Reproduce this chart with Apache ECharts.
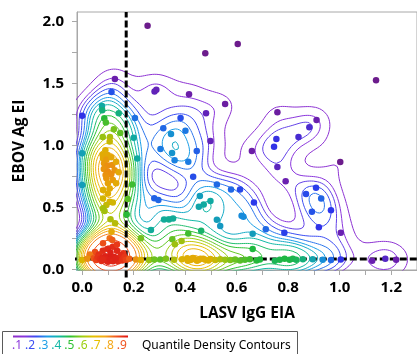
<!DOCTYPE html>
<html>
<head>
<meta charset="utf-8">
<script src="https://cdn.jsdelivr.net/npm/echarts@6/dist/echarts.min.js"></script>
<style>
  html, body { margin: 0; padding: 0; background: #ffffff; }
  #chart { width: 417px; height: 354px; }
</style>
</head>
<body>
<div id="chart"></div>
<script>
// Sample measurements: LASV IgG EIA (x) against EBOV Ag EI (y)
const lasvIgG = [
  // sparse high values
  0.254, 0.478, 0.604, 1.141, 0.127, 0.281, 0.288, 0.415, 0.481, 0.555,
  // upper-left group
  0.114, 0.000, 0.077, 0.078, 0.142, 0.205, 0.086, 0.092, 0.123, 0.148,
  0.080, 0.108, 0.107, 0.200, 0.000, 0.214,
  // main column
  0.090, 0.079, 0.098, 0.081, 0.094, 0.113, 0.085, 0.098, 0.117, 0.132,
  0.084, 0.100, 0.126, 0.091, 0.113, 0.142, 0.094, 0.119, 0.100, 0.132,
  0.107, 0.081, 0.100, 0.081, 0.107, 0.094, 0.081, 0.087, 0.119,
  0.194, 0.177, 0.173, 0.110, 0.128, 0.000,
  // between column and baseline
  0.114, 0.107, 0.117, 0.081, 0.119, 0.135, 0.100,
  0.050, 0.080, 0.110, 0.135, 0.160, 0.065, 0.150, 0.030,
  // baseline core
  0.045, 0.055, 0.060, 0.070, 0.075, 0.080, 0.085, 0.090, 0.095, 0.100,
  0.100, 0.105, 0.110, 0.115, 0.120, 0.125, 0.130, 0.135, 0.140, 0.145,
  0.150, 0.155, 0.160, 0.165, 0.170, 0.090, 0.110, 0.120, 0.080, 0.130,
  0.183, 0.209, 0.228, 0.260, 0.280, 0.000, 0.020,
  // baseline strip
  0.303, 0.325, 0.357, 0.388, 0.408, 0.421, 0.427, 0.440, 0.446, 0.459,
  0.478, 0.498, 0.517, 0.536, 0.555, 0.575, 0.594, 0.613, 0.632, 0.651,
  0.677, 0.690, 0.748, 0.767, 0.786, 0.805, 0.818, 0.831, 0.857, 0.895,
  0.934, 0.966, 1.004, 1.126, 1.177, 1.219,
  0.410, 0.430, 0.452, 0.470, 0.490,
  // middle field
  0.280, 0.296, 0.267, 0.228, 0.318, 0.337, 0.353, 0.350, 0.360, 0.386,
  0.412, 0.462, 0.457, 0.498, 0.472, 0.453, 0.523, 0.536, 0.619, 0.523,
  0.578, 0.613, 0.431, 0.667, 0.626, 0.713, 0.785, 0.919, 0.662, 0.662,
  0.869, 0.908, 0.928, 0.892, 0.966, 1.004, 1.002, 0.790, 0.758, 0.659,
  0.754, 0.745, 0.840, 0.882, 0.910, 0.758, 0.315, 0.345, 0.382, 0.401,
  0.304, 0.349, 0.359, 0.412, 0.445, 0.498
];
const ebovAg = [
  // sparse high values
  1.965, 1.742, 1.817, 1.524, 1.535, 1.435, 1.448, 1.411, 1.258, 1.333,
  // upper-left group
  1.430, 1.239, 1.317, 1.283, 1.258, 1.220, 1.218, 1.185, 1.129, 1.099,
  1.067, 1.067, 1.030, 1.062, 0.936, 0.893,
  // main column
  0.960, 0.927, 0.922, 0.896, 0.883, 0.905, 0.855, 0.836, 0.841, 0.868,
  0.809, 0.787, 0.799, 0.761, 0.767, 0.783, 0.734, 0.721, 0.694, 0.694,
  0.653, 0.639, 0.612, 0.572, 0.545, 0.519, 0.492, 0.470, 0.540,
  0.685, 0.567, 0.443, 0.405, 0.371, 0.680,
  // between column and baseline
  0.303, 0.250, 0.236, 0.210, 0.182, 0.200, 0.165,
  0.140, 0.150, 0.135, 0.150, 0.130, 0.120, 0.115, 0.120,
  // baseline core
  0.090, 0.075, 0.100, 0.085, 0.068, 0.095, 0.078, 0.105, 0.070, 0.088,
  0.062, 0.078, 0.095, 0.070, 0.083, 0.100, 0.075, 0.090, 0.065, 0.080,
  0.095, 0.072, 0.086, 0.100, 0.078, 0.085, 0.080, 0.065, 0.080, 0.088,
  0.085, 0.080, 0.075, 0.075, 0.080, 0.075, 0.085,
  // baseline strip
  0.080, 0.085, 0.078, 0.082, 0.090, 0.075, 0.088, 0.080, 0.070, 0.085,
  0.078, 0.083, 0.075, 0.082, 0.078, 0.075, 0.080, 0.072, 0.078, 0.082,
  0.072, 0.080, 0.070, 0.078, 0.085, 0.078, 0.085, 0.078, 0.082, 0.082,
  0.078, 0.075, 0.080, 0.070, 0.085, 0.078,
  0.070, 0.092, 0.076, 0.086, 0.072,
  // middle field
  0.573, 0.559, 0.317, 0.250, 0.403, 0.403, 0.411, 0.242, 0.202, 0.228,
  0.290, 0.311, 0.591, 0.551, 0.524, 0.505, 0.400, 0.350, 0.432, 0.685,
  0.645, 0.645, 0.747, 0.540, 0.424, 0.323, 0.295, 0.339, 0.287, 0.165,
  0.607, 0.658, 0.572, 0.465, 0.477, 0.296, 0.865, 0.710, 0.825, 0.954,
  1.051, 0.989, 1.067, 1.145, 1.204, 1.266, 1.137, 1.091, 1.220, 1.118,
  0.970, 0.938, 0.879, 0.868, 0.954, 1.035
];

// Reference cut-offs (dashed lines)
const lasvCutoff = 0.171;
const ebovCutoff = 0.083;

// Axis tick values and labels
const xLabelValues = [0, 0.2, 0.4, 0.6, 0.8, 1.0, 1.2];
const xTickValues = [0, 0.1, 0.2, 0.3, 0.4, 0.5, 0.6, 0.7, 0.8, 0.9, 1.0, 1.1, 1.2];
const yLabelValues = [0, 0.5, 1.0, 1.5, 2.0];
const yTickValues = [0, 0.25, 0.5, 0.75, 1.0, 1.25, 1.5, 1.75, 2.0];

// Quantile levels of the density contours and the legend labels
const contourQuantiles = [0.05, 0.10, 0.15, 0.20, 0.25, 0.30, 0.35, 0.40, 0.45, 0.50,
                          0.55, 0.60, 0.65, 0.70, 0.75, 0.80, 0.85, 0.90, 0.95];
const legendLabels = ['.1', '.2', '.3', '.4', '.5', '.6', '.7', '.8', '.9'];
const legendTitle = 'Quantile Density Contours';

// ---------- colour ramp (purple -> blue -> cyan -> green -> yellow -> orange -> red)
const lineStops = [
  [0.00, '#9030c8'], [0.10, '#8a36dc'], [0.20, '#3c4ef2'], [0.30, '#1c9ee6'],
  [0.40, '#12b8a6'], [0.50, '#2ec234'], [0.60, '#9cce12'], [0.70, '#e6c000'],
  [0.80, '#f4a818'], [0.90, '#f05420'], [1.00, '#e01010']
];
const pointStops = [
  [0.00, '#6c1c8c'], [0.12, '#6a1fb0'], [0.20, '#2c34ec'], [0.30, '#1888e0'],
  [0.40, '#10aaa0'], [0.50, '#1eb83c'], [0.60, '#8cc414'], [0.72, '#d8b400'],
  [0.82, '#e4a808'], [0.88, '#f07818'], [0.93, '#e83a18'], [1.00, '#d81818']
];
function hexToRgb(h) {
  return [parseInt(h.slice(1, 3), 16), parseInt(h.slice(3, 5), 16), parseInt(h.slice(5, 7), 16)];
}
function ramp(stops, t) {
  t = Math.max(0, Math.min(1, t));
  for (let i = 1; i < stops.length; i++) {
    if (t <= stops[i][0]) {
      const a = stops[i - 1], b = stops[i];
      const f = (t - a[0]) / (b[0] - a[0]);
      const ca = hexToRgb(a[1]), cb = hexToRgb(b[1]);
      const c = ca.map((v, k) => Math.round(v + (cb[k] - v) * f));
      return 'rgb(' + c.join(',') + ')';
    }
  }
  return stops[stops.length - 1][1];
}

// ---------- kernel density estimate of the sample
const HX = 0.06, HY = 0.12;
const N = lasvIgG.length;
function kde(x, y) {
  let s = 0;
  for (let k = 0; k < N; k++) {
    const dx = (x - lasvIgG[k]) / HX, dy = (y - ebovAg[k]) / HY;
    const d = dx * dx + dy * dy;
    if (d < 36) s += Math.exp(-0.5 * d);
  }
  return s;
}

// frame of the plot
const X_MIN = -0.02, X_MAX = 1.3, Y_MIN = -0.005, Y_MAX = 2.075;

// density on a regular grid
const GX0 = -0.35, GX1 = 1.65, GNX = 251;
const GY0 = -0.6, GY1 = 2.6, GNY = 321;
const gdx = (GX1 - GX0) / (GNX - 1), gdy = (GY1 - GY0) / (GNY - 1);
const grid = [];
const flat = [];
for (let j = 0; j < GNY; j++) {
  const row = new Float64Array(GNX);
  const y = GY0 + j * gdy;
  for (let i = 0; i < GNX; i++) {
    const x = GX0 + i * gdx;
    row[i] = kde(x, y);
    if (x >= X_MIN && x <= X_MAX && y >= Y_MIN && y <= Y_MAX) flat.push(row[i]);
  }
  grid.push(row);
}

// contour level for quantile q: the region above it holds (1 - q) of the mass inside the frame
flat.sort((a, b) => b - a);
const totalMass = flat.reduce((a, b) => a + b, 0);
function levelForQuantile(q) {
  const target = (1 - q) * totalMass;
  let acc = 0;
  for (let k = 0; k < flat.length; k++) {
    acc += flat[k];
    if (acc >= target) return flat[k];
  }
  return flat[flat.length - 1];
}
const levels = contourQuantiles.map(levelForQuantile);

// each point takes the colour of the band it falls in
const pointColors = lasvIgG.map((x, i) => {
  const d = kde(x, ebovAg[i]);
  let t = 0;
  for (let k = 0; k < levels.length; k++) {
    if (d >= levels[k]) {
      const nextLevel = k + 1 < levels.length ? levels[k + 1] : levels[k] * 1.3;
      const nextQ = k + 1 < levels.length ? contourQuantiles[k + 1] : 1;
      const f = Math.min(1, (d - levels[k]) / (nextLevel - levels[k]));
      t = contourQuantiles[k] + f * (nextQ - contourQuantiles[k]);
    }
  }
  return ramp(pointStops, t);
});

// ---------- marching squares, chained into polylines
function contourPolylines(level) {
  const pts = {};
  const segs = [];
  const inside = (i, j) => grid[j][i] >= level;
  function edgePoint(key, i0, j0, i1, j1) {
    if (!pts[key]) {
      const v0 = grid[j0][i0], v1 = grid[j1][i1];
      const f = (level - v0) / (v1 - v0);
      pts[key] = [GX0 + (i0 + (i1 - i0) * f) * gdx, GY0 + (j0 + (j1 - j0) * f) * gdy];
    }
    return key;
  }
  for (let j = 0; j < GNY - 1; j++) {
    for (let i = 0; i < GNX - 1; i++) {
      const bl = inside(i, j), br = inside(i + 1, j), tr = inside(i + 1, j + 1), tl = inside(i, j + 1);
      const e = [];
      const B = bl !== br ? edgePoint('h' + i + '_' + j, i, j, i + 1, j) : null;
      const R = br !== tr ? edgePoint('v' + (i + 1) + '_' + j, i + 1, j, i + 1, j + 1) : null;
      const T = tl !== tr ? edgePoint('h' + i + '_' + (j + 1), i, j + 1, i + 1, j + 1) : null;
      const L = bl !== tl ? edgePoint('v' + i + '_' + j, i, j, i, j + 1) : null;
      [B, R, T, L].forEach(k => { if (k) e.push(k); });
      if (e.length === 2) segs.push([e[0], e[1]]);
      else if (e.length === 4) {
        const c = (grid[j][i] + grid[j][i + 1] + grid[j + 1][i] + grid[j + 1][i + 1]) / 4 >= level;
        if ((bl && c) || (!bl && !c)) { segs.push([B, R]); segs.push([T, L]); }
        else { segs.push([B, L]); segs.push([R, T]); }
      }
    }
  }
  const adj = {};
  segs.forEach((s, idx) => {
    (adj[s[0]] = adj[s[0]] || []).push(idx);
    (adj[s[1]] = adj[s[1]] || []).push(idx);
  });
  const used = new Uint8Array(segs.length);
  const lines = [];
  function walk(startKey, fromSeg) {
    const out = [];
    let key = startKey, seg = fromSeg;
    while (true) {
      const next = (adj[key] || []).find(s => s !== seg && !used[s]);
      if (next === undefined) break;
      used[next] = 1;
      const s = segs[next];
      key = s[0] === key ? s[1] : s[0];
      out.push(key);
      seg = next;
    }
    return out;
  }
  for (let s = 0; s < segs.length; s++) {
    if (used[s]) continue;
    used[s] = 1;
    const fwd = walk(segs[s][1], s);
    const bwd = walk(segs[s][0], s);
    const keys = bwd.reverse().concat([segs[s][0], segs[s][1]], fwd);
    lines.push(keys.map(k => pts[k]));
  }
  return lines;
}

const series = [];
contourQuantiles.forEach((q, k) => {
  const color = ramp(lineStops, q);
  contourPolylines(levels[k]).forEach(line => {
    series.push({
      type: 'line', data: line, showSymbol: false, symbol: 'none', silent: true,
      smooth: false, z: 1, animation: false,
      lineStyle: { color: color, width: 1 }
    });
  });
});

// dashed cut-off lines, running slightly past the frame
series.push({
  type: 'line', data: [[lasvCutoff, -0.065], [lasvCutoff, Y_MAX]], clip: false,
  showSymbol: false, symbol: 'none', silent: true, z: 2, animation: false,
  lineStyle: { color: '#000', width: 3, type: [7, 3] }
});
series.push({
  type: 'line', data: [[-0.048, ebovCutoff], [X_MAX, ebovCutoff]], clip: false,
  showSymbol: false, symbol: 'none', silent: true, z: 2, animation: false,
  lineStyle: { color: '#000', width: 3, type: [7, 3] }
});

series.push({
  type: 'scatter', data: lasvIgG.map((x, i) => [x, ebovAg[i]]), symbolSize: 6.5, z: 3,
  animation: false,
  itemStyle: { color: p => pointColors[p.dataIndex], opacity: 1 }
});

// ---------- legend box drawn as graphics
const legendX0 = 17, legendStep = 13.1;
const gradStops = lineStops.map(s => ({ offset: s[0], color: s[1] }));
const graphics = [
  { type: 'rect', shape: { x: 2.5, y: 331.5, width: 295, height: 40 }, silent: true,
    style: { fill: 'none', stroke: '#5a5a5a', lineWidth: 1 } },
  { type: 'rect', shape: { x: 13, y: 335.5, width: 115, height: 2 }, silent: true,
    style: { fill: new echarts.graphic.LinearGradient(0, 0, 1, 0, gradStops) } },
  { type: 'text', x: 142, y: 346, silent: true,
    style: { text: legendTitle, font: '12px "Noto Sans"', fill: '#000', verticalAlign: 'middle' } }
];
legendLabels.forEach((t, k) => {
  graphics.push({
    type: 'text', x: legendX0 + k * legendStep, y: 346, silent: true,
    style: { text: t, font: '12px "Noto Sans"', fill: ramp(lineStops, (k + 1) / 10),
             align: 'center', verticalAlign: 'middle' }
  });
});

const chart = echarts.init(document.getElementById('chart'), null, { renderer: 'canvas' });
chart.setOption({
  animation: false,
  grid: { left: 77, top: 12, width: 343, height: 258, show: true, borderColor: '#a8a8a8', borderWidth: 1 },
  xAxis: {
    type: 'value', min: X_MIN, max: X_MAX,
    name: 'LASV IgG EIA', nameLocation: 'middle', nameGap: 36,
    nameTextStyle: { fontFamily: 'Open Sans', fontWeight: 'bold', fontSize: 15.5, color: '#000' },
    axisLine: { show: true, onZero: false, lineStyle: { color: '#a8a8a8' } },
    axisTick: { show: true, length: 5, customValues: xTickValues, lineStyle: { color: '#a8a8a8' } },
    axisLabel: { customValues: xLabelValues, margin: 10, formatter: v => v.toFixed(1),
                 fontFamily: 'Open Sans', fontWeight: 'bold', fontSize: 15, color: '#000' },
    splitLine: { show: false }
  },
  yAxis: {
    type: 'value', min: Y_MIN, max: Y_MAX,
    name: 'EBOV Ag EI', nameLocation: 'middle', nameGap: 49,
    nameTextStyle: { fontFamily: 'Open Sans', fontWeight: 'bold', fontSize: 15.5, color: '#000' },
    axisLine: { show: true, onZero: false, lineStyle: { color: '#a8a8a8' } },
    axisTick: { show: true, length: 5, customValues: yTickValues, lineStyle: { color: '#a8a8a8' } },
    axisLabel: { customValues: yLabelValues, margin: 13, formatter: v => v.toFixed(1),
                 fontFamily: 'Open Sans', fontWeight: 'bold', fontSize: 15, color: '#000' },
    splitLine: { show: false }
  },
  graphic: graphics,
  series: series
});
</script>
</body>
</html>
